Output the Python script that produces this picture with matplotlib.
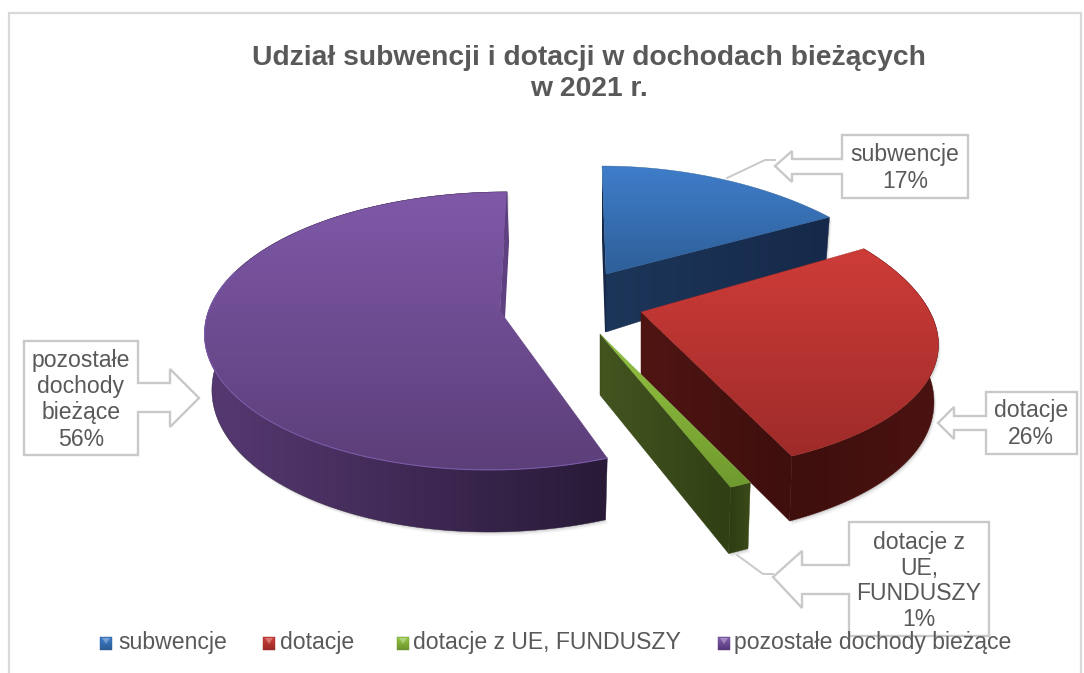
import numpy as np
import matplotlib
matplotlib.use("Agg")
import matplotlib.pyplot as plt
from matplotlib.patches import Polygon
from matplotlib.colors import LinearSegmentedColormap

plt.rcParams['font.family'] = ['Liberation Sans', 'DejaVu Sans']

categories = ['subwencje', 'dotacje', 'dotacje z UE, FUNDUSZY', 'pozostałe dochody bieżące']
values = [17, 26, 1, 56]
title_lines = 'Udział subwencji i dotacji w dochodach bieżących\nw 2021 r.'

# projection per slice: apex, rx, ry, perspective kx, ky, shear, thickness h0, kh, apex thickness
geom = [
    dict(c=(606, 274), rx=291, ry=127, kx=.24, ky=.15, sh=.037, h0=50, kh=.2, ha=58),
    dict(c=(641, 312), rx=289, ry=141, kx=.25, ky=.143, sh=0, h0=55, kh=.2, ha=62),
    dict(c=(600, 334), rx=290, ry=140, kx=.24, ky=.19, sh=0, h0=56, kh=.2, ha=61),
    dict(c=(499, 316), rx=292, ry=139, kx=.1, ky=.107, sh=-.065, h0=55, kh=.13, ha=60),
]
style = [
    dict(top=('#3F7DCA', '#2E5F98'), cut=('#1C3659', '#16294A'), rim=('#1C3659', '#1A3252'), edge='#4A86CF'),
    dict(top=('#CE3C38', '#9E2B29'), cut=('#4F1513', '#3E0F0D'), rim=('#3E0F0D', '#4A1311'), edge='#B5403C'),
    dict(top=('#95C441', '#6F9A2E'), cut=('#445520', '#303F14'), rim=('#2F3E13', '#3A4A18'), edge='#8AB83C'),
    dict(top=('#7F59A8', '#5C3E79'), cut=('#5F4080', '#5F4080'), rim=('#563972', '#291A38'), edge='#7A5BA8'),
]
legend_cols = [('#3F7DCA', '#2C5C96'), ('#D03E3A', '#992A28'), ('#98C845', '#6A932C'), ('#8560AE', '#55377A')]

fig = plt.figure(figsize=(10.84, 6.73), dpi=100, facecolor='white')
ax = fig.add_axes([0, 0, 1, 1])
ax.set_xlim(0, 1084)
ax.set_ylim(673, 0)
ax.axis('off')


def pt(g, th, bottom=False):
    t = np.radians(th)
    s, co = np.sin(t), np.cos(t)
    dx = g['rx'] * s * (1 - g['kx'] * co)
    dy = -g['ry'] * co * (1 - g['ky'] * co)
    x = g['c'][0] + dx + g['sh'] * dy
    y = g['c'][1] + dy
    if bottom:
        rel = x - g['c'][0]
        x = g['c'][0] + rel * np.where(rel < 0, .975, .985)
        y = y + g['h0'] * (1 - g['kh'] * co)
    return np.column_stack([x, y])


def grad_poly(pts, c0, c1, vertical=True, z=2):
    pts = np.asarray(pts, float)
    cmap = LinearSegmentedColormap.from_list('g', [c0, c1])
    x0, y0 = pts.min(axis=0)
    x1, y1 = pts.max(axis=0)
    g = np.linspace(0, 1, 128)
    img = g[:, None] if vertical else g[None, :]
    im = ax.imshow(img, extent=(x0, x1, y1, y0), cmap=cmap, aspect='auto', zorder=z,
                   interpolation='bilinear', vmin=0, vmax=1)
    patch = Polygon(pts, closed=True, transform=ax.transData, fc='none', ec='none')
    ax.add_patch(patch)
    im.set_clip_path(patch)
    ax.add_patch(Polygon(pts, closed=True, fc='none', ec=c1, lw=.3, zorder=z))


# cumulative angles, clockwise from 12 o'clock
cum = np.concatenate([[0], np.cumsum(values)]) * 3.6
order = [3, 0, 1, 2]
z = 3
for i in order:
    g, st = geom[i], style[i]
    a0, a1 = cum[i], cum[i + 1]
    th = np.linspace(a0, a1, 120)
    apex = np.array(g['c'], float)
    apex_b = apex + [0, g['ha']]
    top_arc = pt(g, th)
    bot_arc = pt(g, th, True)
    rim = np.vstack([top_arc, bot_arc[::-1]])
    # soft shadow below the solid
    for off, al in ((4, .06), (2.5, .10), (1.2, .14)):
        ax.add_patch(Polygon(np.vstack([rim, [apex_b]]) + [off * .6, off], closed=True,
                             fc='#606060', ec='none', alpha=al, zorder=z))
    z += 1
    # side faces
    if i == 0:
        grad_poly([apex, top_arc[-1], bot_arc[-1], apex_b], *st['cut'], vertical=False, z=z)
        ax.add_patch(Polygon([top_arc[0], apex, apex_b, apex_b + [-1, 0], top_arc[0] + [0, 74]],
                             closed=True, fc=st['cut'][1], ec='none', zorder=z))
    elif i in (1, 2):
        grad_poly(rim, *st['rim'], vertical=False, z=z)
        grad_poly([apex, top_arc[-1], bot_arc[-1], apex_b], *st['cut'], vertical=False, z=z + .1)
    else:
        grad_poly(rim, *st['rim'], vertical=False, z=z)
        ax.add_patch(Polygon([top_arc[-1], top_arc[-1] + [2, 50], apex + [6, 2], apex + [1, -4]],
                             closed=True, fc=st['cut'][0], ec='none', zorder=z))
    z += 1
    # top face
    if i == 3:
        face = np.vstack([top_arc, [apex + [1, -4]], [apex + [6, 2]]])
    else:
        face = np.vstack([[apex], top_arc])
    grad_poly(face, *st['top'], vertical=True, z=z)
    if i == 3:
        front = th <= 290
        ax.plot(top_arc[front, 0], top_arc[front, 1], color=st['edge'], lw=.8, zorder=z + .1)
    z += 1

# call-outs: outline, leader
EDGE = '#C9C9C9'
TXT = '#595959'
callouts = [
    dict(box=(842, 135, 968, 198), tip=(775, 166), hx=792, hy=(151, 182), sy=(159, 174), side='L',
         lead=[(727, 178), (765, 160), (775, 160)]),
    dict(box=(986, 392, 1077, 454), tip=(938, 423), hx=954, hy=(407, 439), sy=(416, 430), side='L', lead=None),
    dict(box=(849, 522, 989, 636), tip=(773, 577), hx=802, hy=(551, 608), sy=(565, 594), side='L',
         lead=[(737, 555), (763, 574), (773, 574)]),
    dict(box=(24, 341, 138, 455), tip=(199, 398), hx=170, hy=(369, 427), sy=(383, 412), side='R', lead=None),
]
for c in callouts:
    x0, y0, x1, y1 = c['box']
    if c['side'] == 'L':
        p = [(x0, y0), (x1, y0), (x1, y1), (x0, y1), (x0, c['sy'][1]), (c['hx'], c['sy'][1]),
             (c['hx'], c['hy'][1]), c['tip'], (c['hx'], c['hy'][0]), (c['hx'], c['sy'][0]), (x0, c['sy'][0])]
    else:
        p = [(x0, y0), (x1, y0), (x1, c['sy'][0]), (c['hx'], c['sy'][0]), (c['hx'], c['hy'][0]), c['tip'],
             (c['hx'], c['hy'][1]), (c['hx'], c['sy'][1]), (x1, c['sy'][1]), (x1, y1), (x0, y1)]
    ax.add_patch(Polygon(p, closed=True, fc='white', ec=EDGE, lw=1.7, zorder=30, joinstyle='miter'))
    if c['lead']:
        xs, ys = zip(*c['lead'])
        ax.plot(xs, ys, color=EDGE, lw=1.4, zorder=29)

labels = [
    (905, [155, 181], ['subwencje', f'{values[0]}%']),
    (1031, [411, 437], ['dotacje', f'{values[1]}%']),
    (919, [542, 568, 594, 620], ['dotacje z', 'UE,', 'FUNDUSZY', f'{values[2]}%']),
    (81, [361, 387, 413, 439], ['pozostałe', 'dochody', 'bieżące', f'{values[3]}%']),
]
for x, ys, lines in labels:
    for y, s in zip(ys, lines):
        ax.text(x, y, s, ha='center', va='center', fontsize=16.6, color=TXT, zorder=31)

# title
for y, s in zip((58, 89), title_lines.split('\n')):
    ax.text(589, y, s, ha='center', va='center', fontsize=20.3, fontweight='bold', color=TXT, zorder=31)

# legend
leg_marker_x = [100, 263, 397, 718]
leg_text_x = [118, 280, 413, 734]
for cat, mx, tx, (c0, c1) in zip(categories, leg_marker_x, leg_text_x, legend_cols):
    grad_poly([(mx, 637), (mx + 12, 637), (mx + 12, 650), (mx, 650)], c0, c1, z=40)
    ax.add_patch(Polygon([(mx + 2, 638), (mx + 10, 638), (mx + 6, 644)], closed=True,
                         fc='white', ec='none', alpha=.3, zorder=41))
    ax.text(tx, 643, cat, ha='left', va='center', fontsize=16.6, color=TXT, zorder=41)

# chart frame
ax.plot([9, 9, 1081, 1081], [673, 13, 13, 673], color='#D9D9D9', lw=1.6, zorder=1, solid_joinstyle='miter')

ax.set_xlim(0, 1084)
ax.set_ylim(673, 0)
fig.savefig('out.png', dpi=100, facecolor='white')
